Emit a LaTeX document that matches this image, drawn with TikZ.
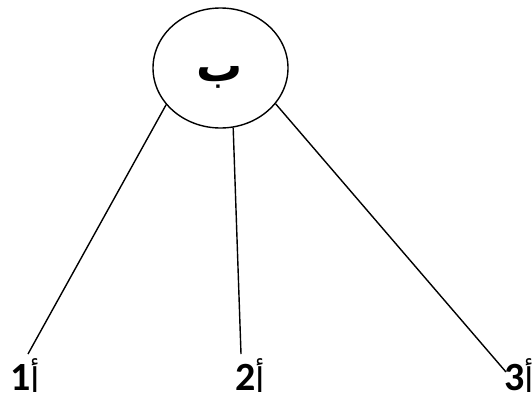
\documentclass[tikz,border=0pt]{standalone}
\usepackage{fontspec}
\setmainfont{Carlito}
\newfontfamily\arabicfont[Script=Arabic]{DejaVu Sans}
\TeXXeTstate=1
\usetikzlibrary{shapes.geometric}
\begin{document}
\begin{tikzpicture}[x=1pt,y=-1pt,
  conn/.style={draw=black,line width=1.4pt},
  lab/.style={inner sep=0pt,anchor=base west,text depth=0pt,font=\fontsize{40}{44}\selectfont\bfseries}]
\useasboundingbox (0,0) rectangle (532,397);
\node[ellipse,draw=black,line width=1.4pt,minimum width=135pt,minimum height=120pt,inner sep=0pt] (b) at (220.5,68) {};
\node[inner sep=0pt] (bt) at (220,77) {\fontsize{46}{50}\selectfont\arabicfont\bfseries\beginR ب\endR};
\coordinate (e1) at (28,354);
\coordinate (e2) at (241,354);
\coordinate (e3) at (506,372);
\draw[conn] (b.214.4) -- (e1);
\draw[conn] (b.282) -- (e2);
\draw[conn] (b.327.8) -- (e3);
\newcommand\alefmark{\smash{\raisebox{-2pt}{\fontsize{34}{36}\selectfont\arabicfont\mdseries\beginR أ\endR}}}
\node[lab] (l1) at (10,390) {1\alefmark};
\node[lab] (l2) at (235,390) {2\alefmark};
\node[lab] (l3) at (504,390) {3\alefmark};
\end{tikzpicture}
\end{document}
